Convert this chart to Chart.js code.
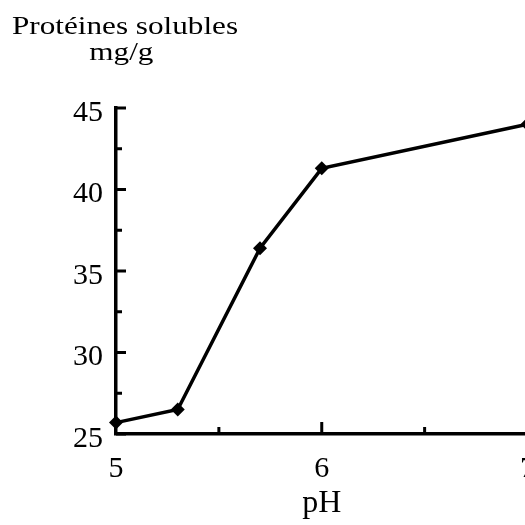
<!DOCTYPE html>
<html>
<head>
<meta charset="utf-8">
<script src="https://cdn.jsdelivr.net/npm/chart.js@4"></script>
<style>
  html, body { margin: 0; padding: 0; background: #fff; overflow: hidden; }
  #wrap { width: 552px; height: 525px; }
</style>
</head>
<body>
<div id="wrap"><canvas id="chart" width="552" height="525"></canvas></div>
<script>
// pH values and soluble protein (mg/g)
const phValues = [5, 5.3, 5.7, 6.0, 7];
const proteins = [25.7, 26.5, 36.4, 41.3, 44.0];
const yMajor = [25, 30, 35, 40, 45];
const yMinor = [27.5, 32.5, 37.5, 42.5];
const xMajor = [6, 7];
const xMinor = [5.5, 6.5];
const titleLines = ["Protéines solubles", "mg/g"];

const FONT = "'Liberation Serif', 'Times New Roman', serif";

// ticks drawn inward like the original figure
const innerTicks = {
    id: 'innerTicks',
    afterDraw(chart) {
        const ctx = chart.ctx;
        const x = chart.scales.x, y = chart.scales.y;
        const left = chart.chartArea.left, bottom = chart.chartArea.bottom;
        ctx.save();
        ctx.strokeStyle = '#000';
        ctx.lineWidth = 3;
        ctx.beginPath();
        yMajor.forEach(v => { const p = y.getPixelForValue(v); ctx.moveTo(left, p); ctx.lineTo(left + 10, p); });
        yMinor.forEach(v => { const p = y.getPixelForValue(v); ctx.moveTo(left, p); ctx.lineTo(left + 6, p); });
        xMajor.forEach(v => { const p = x.getPixelForValue(v); ctx.moveTo(p, bottom); ctx.lineTo(p, bottom - 12); });
        xMinor.forEach(v => { const p = x.getPixelForValue(v); ctx.moveTo(p, bottom); ctx.lineTo(p, bottom - 7); });
        ctx.stroke();

        // axis title above the y axis (scanned type is a bit wide)
        ctx.fillStyle = '#000';
        ctx.textAlign = 'center';
        ctx.textBaseline = 'alphabetic';
        ctx.font = "26px " + FONT;
        ctx.translate(125, 0);
        ctx.scale(1.2, 1);
        ctx.fillText(titleLines[0], 0, 34);
        ctx.fillText(titleLines[1], -3, 60);
        ctx.restore();
    }
};

new Chart(document.getElementById("chart"), {
    type: 'line',
    data: {
        datasets: [{
            data: phValues.map((v, i) => ({ x: v, y: proteins[i] })),
            borderColor: '#000',
            backgroundColor: '#000',
            borderWidth: 3.5,
            pointStyle: 'rectRot',
            pointRadius: 7,
            pointBorderWidth: 0,
            tension: 0,
            clip: false
        }]
    },
    options: {
        responsive: false,
        animation: false,
        layout: { padding: { left: 0, right: 0, top: 108, bottom: 0 } },
        plugins: {
            legend: { display: false },
            tooltip: { enabled: false }
        },
        scales: {
            x: {
                type: 'linear',
                min: 5,
                max: 7,
                afterFit: s => { s.height = 91; },
                ticks: {
                    stepSize: 1,
                    padding: 17,
                    color: '#000',
                    font: { family: FONT, size: 30 }
                },
                grid: { display: false, drawTicks: false },
                border: { display: true, color: '#000', width: 3.5 },
                title: {
                    display: true,
                    text: 'pH',
                    color: '#000',
                    font: { family: FONT, size: 32 },
                    padding: { top: 0, bottom: 2 }
                }
            },
            y: {
                min: 25,
                max: 45,
                afterFit: s => { s.width = 116; },
                ticks: {
                    stepSize: 5,
                    padding: 13,
                    labelOffset: 5,
                    color: '#000',
                    font: { family: FONT, size: 30 }
                },
                grid: { display: false, drawTicks: false },
                border: { display: true, color: '#000', width: 3.5 }
            }
        }
    },
    plugins: [innerTicks]
});
</script>
</body>
</html>
